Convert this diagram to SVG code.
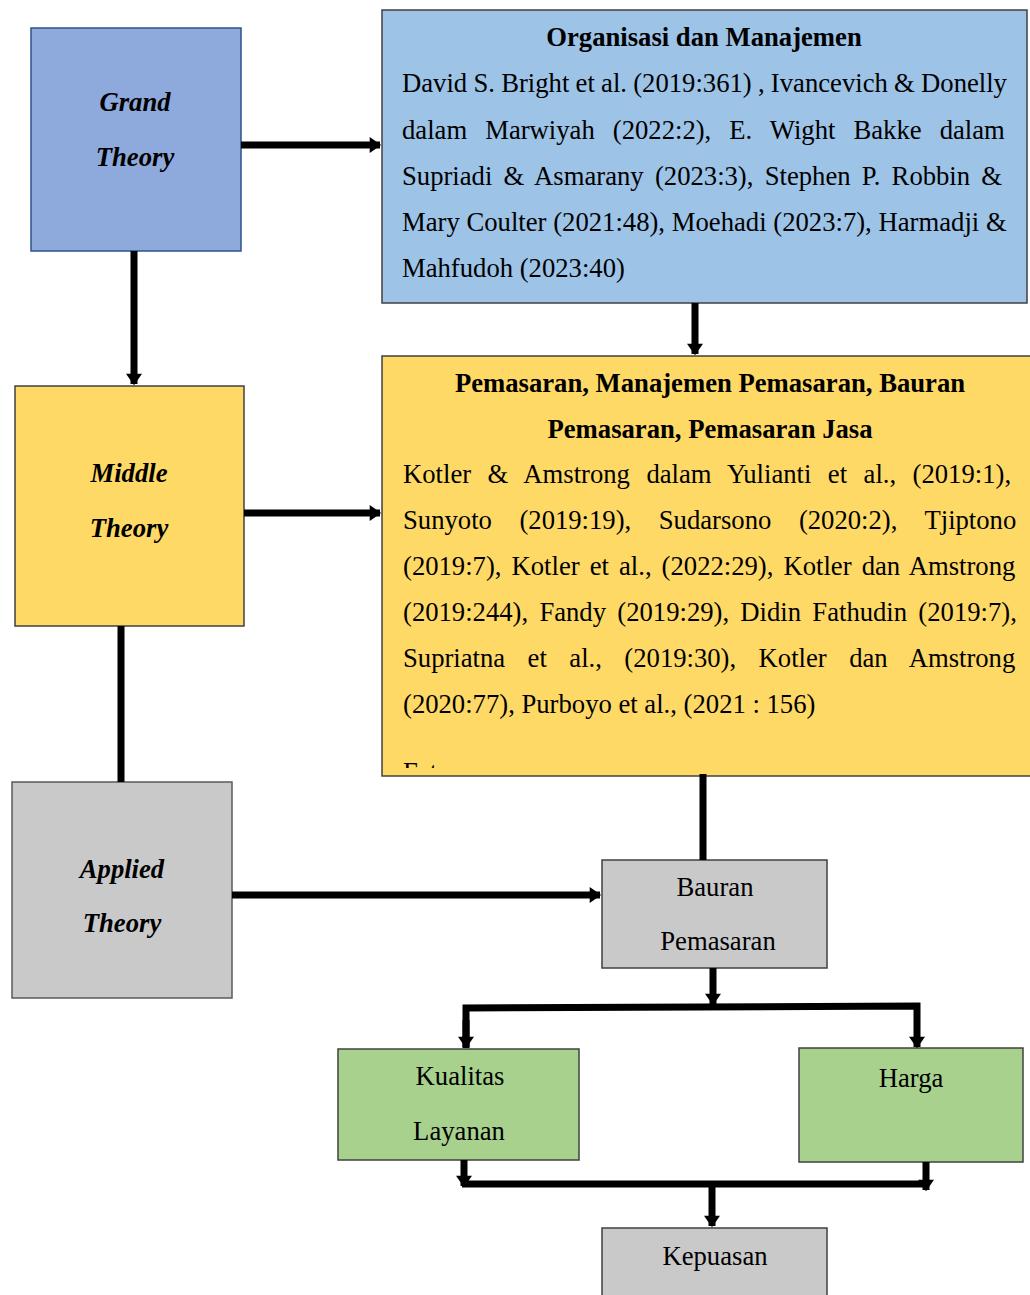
<svg xmlns="http://www.w3.org/2000/svg" width="1030" height="1295" viewBox="0 0 1030 1295">
<style>
.box{stroke-width:1.5}
.t{font-family:"Liberation Serif","Times New Roman",serif;font-size:26.67px;fill:#000}
.th{font-family:"Liberation Serif","Times New Roman",serif;font-size:26.67px;font-weight:bold;font-style:italic;fill:#000;text-anchor:middle}
.b{font-weight:bold;text-anchor:middle}
.c{text-anchor:middle}
.ln{stroke:#000;stroke-width:7;fill:none}
</style>
<defs>
<marker id="ah" markerUnits="userSpaceOnUse" markerWidth="16" markerHeight="16" refX="9" refY="7" orient="auto" viewBox="0 0 10 14">
<path d="M0,0 L10,7 L0,14 Z" fill="#000"/>
</marker>
<clipPath id="clipP"><rect x="382" y="356" width="648" height="412"/></clipPath>
</defs>
<rect width="1030" height="1295" fill="#fff"/>

<g id="grand">
<rect class="box" x="31" y="28" width="210" height="223" fill="#8EA9DB" stroke="#2F528F" stroke-width="2"/>
<text class="th" x="135" y="111">Grand</text>
<text class="th" x="135" y="166">Theory</text>
</g>

<g id="org">
<rect class="box" x="382" y="10" width="645" height="293" fill="#9DC3E6" stroke="#404040"/>
<text class="t b" x="704" y="46">Organisasi dan Manajemen</text>
<text class="t" x="402" y="92" word-spacing="-0.4">David S. Bright et al. (2019:361) , Ivancevich &amp; Donelly</text>
<text class="t" x="402" y="139" word-spacing="11.4">dalam Marwiyah (2022:2), E. Wight Bakke dalam</text>
<text class="t" x="402" y="185" word-spacing="4.6">Supriadi &amp; Asmarany (2023:3), Stephen P. Robbin &amp;</text>
<text class="t" x="402" y="231" word-spacing="0.1">Mary Coulter (2021:48), Moehadi (2023:7), Harmadji &amp;</text>
<text class="t" x="402" y="277">Mahfudoh (2023:40)</text>
</g>

<g id="middle">
<rect class="box" x="15" y="386" width="229" height="240" fill="#FFD966" stroke="#404040"/>
<text class="th" x="129" y="482">Middle</text>
<text class="th" x="129" y="537">Theory</text>
</g>

<g id="pemasaran">
<rect class="box" x="382" y="356" width="652" height="420" fill="#FFD966" stroke="#404040"/>
<text class="t b" x="710" y="392">Pemasaran, Manajemen Pemasaran, Bauran</text>
<text class="t b" x="710" y="438">Pemasaran, Pemasaran Jasa</text>
<text class="t" x="403" y="483" word-spacing="9.8">Kotler &amp; Amstrong dalam Yulianti et al., (2019:1),</text>
<text class="t" x="403" y="529" word-spacing="20.9">Sunyoto (2019:19), Sudarsono (2020:2), Tjiptono</text>
<text class="t" x="403" y="575" word-spacing="3.4">(2019:7), Kotler et al., (2022:29), Kotler dan Amstrong</text>
<text class="t" x="403" y="621" word-spacing="4.6">(2019:244), Fandy (2019:29), Didin Fathudin (2019:7),</text>
<text class="t" x="403" y="667" word-spacing="15.8">Supriatna et al., (2019:30), Kotler dan Amstrong</text>
<text class="t" x="403" y="713">(2020:77), Purboyo et al., (2021 : 156)</text>
<g clip-path="url(#clipP)"><text class="t" x="403" y="781">Fat</text></g>
</g>

<g id="applied">
<rect class="box" x="12" y="782" width="220" height="216" fill="#C9C9C9" stroke="#595959"/>
<text class="th" x="122" y="878">Applied</text>
<text class="th" x="122" y="932">Theory</text>
</g>

<g id="bauran">
<rect class="box" x="602" y="860" width="225" height="108" fill="#C9C9C9" stroke="#404040"/>
<text class="t c" x="715" y="896">Bauran</text>
<text class="t c" x="718" y="950">Pemasaran</text>
</g>

<g id="kualitas">
<rect class="box" x="338" y="1049" width="241" height="111" fill="#A9D18E" stroke="#404040"/>
<text class="t c" x="460" y="1085">Kualitas</text>
<text class="t c" x="459" y="1140">Layanan</text>
</g>

<g id="harga">
<rect class="box" x="799" y="1048" width="224" height="114" fill="#A9D18E" stroke="#404040"/>
<text class="t c" x="911" y="1087">Harga</text>
</g>

<g id="kepuasan">
<rect class="box" x="602" y="1228" width="225" height="80" fill="#C9C9C9" stroke="#404040"/>
<text class="t c" x="715" y="1265">Kepuasan</text>
</g>

<g id="connectors">
<line class="ln" x1="241" y1="145" x2="380" y2="145" marker-end="url(#ah)"/>
<line class="ln" x1="134" y1="251" x2="134" y2="384" marker-end="url(#ah)"/>
<line class="ln" x1="695" y1="303" x2="695" y2="354" marker-end="url(#ah)"/>
<line class="ln" x1="244" y1="513" x2="380" y2="513" marker-end="url(#ah)"/>
<line class="ln" x1="121" y1="626" x2="121" y2="782"/>
<line class="ln" x1="232" y1="895" x2="600" y2="895" marker-end="url(#ah)"/>
<line class="ln" x1="703" y1="774" x2="703" y2="860"/>
<line class="ln" x1="713" y1="968" x2="713" y2="1004" marker-end="url(#ah)"/>
<polyline class="ln" points="466,1048 466,1008 917,1006 917,1047" marker-end="url(#ah)"/>
<line class="ln" x1="466" y1="1020" x2="466" y2="1047" marker-end="url(#ah)"/>
<line class="ln" x1="464" y1="1160" x2="464" y2="1186" marker-end="url(#ah)"/>
<line class="ln" x1="926" y1="1162" x2="926" y2="1190" marker-end="url(#ah)"/>
<line class="ln" x1="462" y1="1184" x2="929" y2="1184"/>
<line class="ln" x1="712" y1="1182" x2="712" y2="1226" marker-end="url(#ah)"/>
</g>
</svg>
